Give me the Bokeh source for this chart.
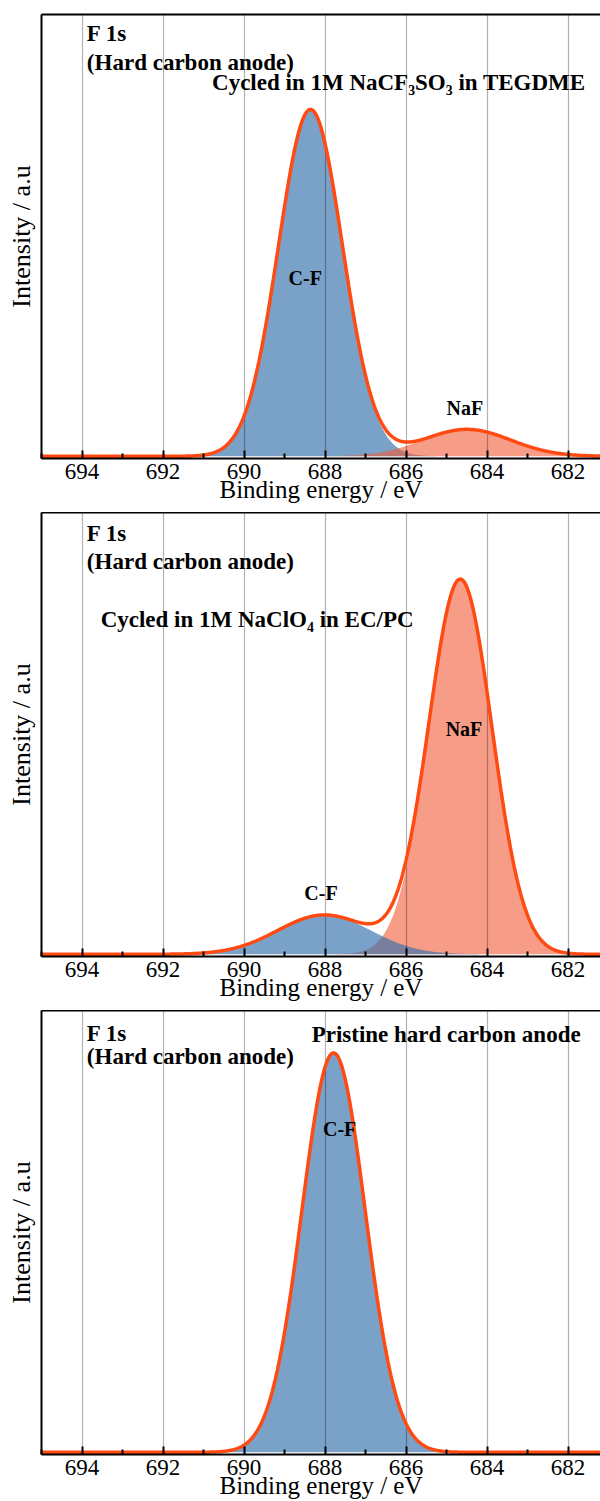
import numpy as np
from bokeh.plotting import figure
from bokeh.layouts import column
from bokeh.models import Range1d, LinearAxis, FixedTicker, Label
from bokeh.embed import file_html
from bokeh.resources import INLINE

# ---------------- data ----------------
x_start, x_end = 695.0, 681.2          # binding energy axis (reversed)
major_ticks = [694, 692, 690, 688, 686, 684, 682]
minor_ticks = [695, 693, 691, 689, 687, 685, 683, 681]

# fitted peak components: centre (eV), height (a.u.), sigma (eV)
p1_names = ["C-F", "NaF"]
p1_centers = [688.36, 684.50]
p1_heights = [0.785, 0.061]
p1_sigmas = [0.79, 1.08]

p2_names = ["NaF", "C-F"]
p2_centers = [684.66, 688.02]
p2_heights = [0.848, 0.089]
p2_sigmas = [0.78, 1.15]

p3_names = ["C-F"]
p3_centers = [687.79]
p3_heights = [0.904]
p3_sigmas = [0.78]

p1_title = "Cycled in 1M NaCF\u2083SO\u2083 in TEGDME"
p2_title = "Cycled in 1M NaClO\u2084 in EC/PC"
p3_title = "Pristine hard carbon anode"

# label anchors (energy, intensity)
p1_labels = [("F 1s", 693.88, 0.957), ("(Hard carbon anode)", 693.88, 0.892),
             (p1_title, 690.79, 0.846)]
p1_peak_labels = [("C-F", 688.49, 0.403), ("NaF", 684.55, 0.110)]
p2_labels = [("F 1s", 693.88, 0.953), ("(Hard carbon anode)", 693.88, 0.889),
             (p2_title, 693.54, 0.758)]
p2_peak_labels = [("NaF", 684.57, 0.511), ("C-F", 688.10, 0.138)]
p3_labels = [("F 1s", 693.88, 0.948), ("(Hard carbon anode)", 693.88, 0.896),
             (p3_title, 688.33, 0.946)]
p3_peak_labels = [("C-F", 687.64, 0.731)]

COLORS = {"C-F": "#326EAA", "NaF": "#F05A37"}
ALPHAS = {"C-F": 0.65, "NaF": 0.6}
ENVELOPE = "#FF4A12"
FONT = "Liberation Serif"


def make_panel(names, centers, heights, sigmas, labels, peak_labels,
               height, top, bottom):
    p = figure(width=600, height=height,
               x_range=Range1d(x_start, x_end), y_range=Range1d(-0.005, 1.0),
               output_backend="svg", toolbar_location=None,
               min_border_left=41, min_border_right=0,
               min_border_top=top, min_border_bottom=bottom,
               outline_line_color=None, background_fill_color="white",
               border_fill_color="white")
    e = np.linspace(x_start, x_end, 900)
    total = np.zeros_like(e)
    for n, c, h, s in zip(names, centers, heights, sigmas):
        comp = h * np.exp(-((e - c) ** 2) / (2 * s ** 2))
        total += comp
        p.varea(x=e, y1=np.zeros_like(e), y2=comp,
                fill_color=COLORS[n], fill_alpha=ALPHAS[n], level="underlay")
    p.line(e, total, line_color=ENVELOPE, line_width=3.5)

    # grid (drawn over the fills, below the envelope)
    p.ygrid.visible = False
    p.xgrid.ticker = FixedTicker(ticks=major_ticks)
    p.xgrid.grid_line_color = "black"
    p.xgrid.grid_line_alpha = 0.3
    p.xgrid.grid_line_width = 1.2

    # x axis
    xa = p.xaxis[0]
    xa.ticker = FixedTicker(ticks=major_ticks, minor_ticks=minor_ticks)
    xa.axis_label = "Binding energy / eV"
    xa.axis_label_text_font = FONT
    xa.axis_label_text_font_style = "normal"
    xa.axis_label_text_font_size = "25px"
    xa.axis_label_text_color = "black"
    xa.axis_label_standoff = -6
    xa.major_label_text_font = FONT
    xa.major_label_text_font_size = "23px"
    xa.major_label_text_color = "black"
    xa.major_label_standoff = 5
    xa.axis_line_width = 2
    xa.axis_line_color = "black"
    xa.major_tick_in = 8
    xa.major_tick_out = 0
    xa.minor_tick_in = 5
    xa.minor_tick_out = 0
    xa.major_tick_line_width = 2
    xa.minor_tick_line_width = 2
    xa.major_tick_line_color = "black"
    xa.minor_tick_line_color = "black"

    # y axis (no ticks)
    ya = p.yaxis[0]
    ya.ticker = FixedTicker(ticks=[])
    ya.axis_label = "Intensity / a.u"
    ya.axis_label_text_font = FONT
    ya.axis_label_text_font_style = "normal"
    ya.axis_label_text_font_size = "26px"
    ya.axis_label_text_color = "black"
    ya.axis_label_standoff = 6
    ya.major_label_standoff = 0
    ya.major_label_text_font_size = "0px"
    ya.major_tick_in = 0
    ya.major_tick_out = 0
    ya.minor_tick_in = 0
    ya.minor_tick_out = 0
    ya.axis_line_width = 2
    ya.axis_line_color = "black"

    # top border
    top_axis = LinearAxis(ticker=FixedTicker(ticks=[]), axis_line_width=2,
                          axis_line_color="black", major_tick_in=0,
                          major_tick_out=0, minor_tick_in=0, minor_tick_out=0,
                          major_label_standoff=0,
                          major_label_text_font_size="0px")
    p.add_layout(top_axis, "above")

    for txt, x, y in labels:
        p.add_layout(Label(x=x, y=y, text=txt, text_font=FONT,
                           text_font_style="bold", text_font_size="23px",
                           text_color="black", text_align="left",
                           text_baseline="middle"))
    for txt, x, y in peak_labels:
        p.add_layout(Label(x=x, y=y, text=txt, text_font=FONT,
                           text_font_style="bold", text_font_size="20px",
                           text_color="black", text_align="center",
                           text_baseline="middle"))
    return p


f1 = make_panel(p1_names, p1_centers, p1_heights, p1_sigmas,
                p1_labels, p1_peak_labels, 512, 14, 54)
f2 = make_panel(p2_names, p2_centers, p2_heights, p2_sigmas,
                p2_labels, p2_peak_labels, 498, 0, 54)
f3 = make_panel(p3_names, p3_centers, p3_heights, p3_sigmas,
                p3_labels, p3_peak_labels, 491, 0, 47)

layout = column(f1, f2, f3, spacing=0)
open("out.html", "w").write(file_html(layout, INLINE))
